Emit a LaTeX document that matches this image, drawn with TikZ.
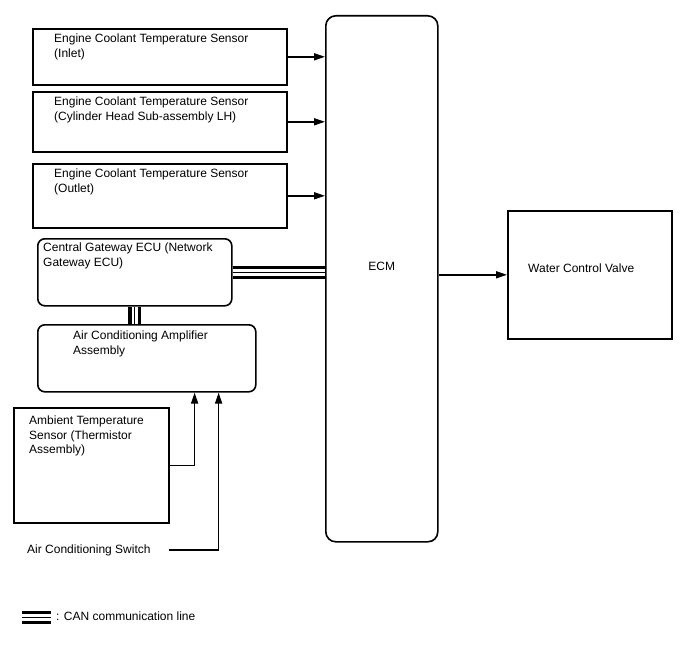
\documentclass[tikz,border=0pt]{standalone}
\usepackage{fontspec}
\setmainfont{Liberation Sans}
\usetikzlibrary{arrows.meta, positioning, calc}

\begin{document}
\begin{tikzpicture}[x=1pt, y=-1pt, >={Triangle[length=11pt, width=7pt]},
  box/.style={draw, line width=1.6pt, anchor=north west, inner sep=0pt},
  rbox/.style={box, rounded corners=7pt},
  txt/.style={align=left, inner sep=0pt, font=\fontsize{12}{14.5}\selectfont},
  conn/.style={line width=1.6pt},
  can/.style={line width=13pt, postaction={draw, white, line width=6.5pt}, postaction={draw, black, line width=1pt}}]
  \useasboundingbox (0,0) rectangle (688,658);

  % boxes
  \node[box, minimum width=254pt, minimum height=56pt] (inlet) at (32,28) {};
  \node[box, minimum width=254pt, minimum height=60pt] (cylhead) at (32,91) {};
  \node[box, minimum width=254pt, minimum height=64pt] (outlet) at (32,163) {};
  \node[rbox, rounded corners=10pt, minimum width=112pt, minimum height=526pt] (ecm) at (325,15) {};
  \node[box, minimum width=164pt, minimum height=128pt] (wcv) at (507,210) {};
  \node[rbox, minimum width=194pt, minimum height=67pt] (gw) at (37,238) {};
  \node[rbox, minimum width=218pt, minimum height=67pt] (amp) at (37,324) {};
  \node[box, minimum width=155pt, minimum height=115pt] (amb) at (13,407) {};

  % texts
  \node[txt, below right=6pt and 22pt of inlet.north west] {Engine Coolant Temperature Sensor\\(Inlet)};
  \node[txt, below right=6pt and 22pt of cylhead.north west] {Engine Coolant Temperature Sensor\\(Cylinder Head Sub-assembly LH)};
  \node[txt, below right=6pt and 22pt of outlet.north west] {Engine Coolant Temperature Sensor\\(Outlet)};
  \node[txt, below right=5pt and 6pt of gw.north west] {Central Gateway ECU (Network\\Gateway ECU)};
  \node[txt, below right=7pt and 36pt of amp.north west] {Air Conditioning Amplifier\\Assembly};
  \node[txt, below right=9pt and 16pt of amb.north west] {Ambient Temperature\\Sensor (Thermistor\\Assembly)};
  \node[txt] (ecmtxt) at ([yshift=12pt]ecm.center) {ECM};
  \node[txt, right=21pt of wcv.west, yshift=7pt] (wcvtxt) {Water Control Valve};
  \node[txt, anchor=west] (sw) at (27,550) {Air Conditioning Switch};

  % connections
  \draw[conn, ->] (inlet.east) -- (inlet.east -| ecm.west);
  \draw[conn, ->] (cylhead.east) -- (cylhead.east -| ecm.west);
  \draw[conn, ->] (outlet.east) -- (outlet.east -| ecm.west);
  \draw[conn, ->] (ecm.east |- wcv.west) -- (wcv.west);
  \draw[can] (gw.east) -- (gw.east -| ecm.west);
  \draw[can] (gw.south) -- (gw.south |- amp.north);
  \draw[conn, ->] (amb.east) -| ([xshift=-62pt]amp.south east);
  \draw[conn, ->] ([xshift=18pt]sw.east) -| ([xshift=-38pt]amp.south east);

  % legend
  \coordinate (lgA) at (22,617.5);
  \coordinate (lgB) at (51,617.5);
  \draw[can] (lgA) -- (lgB);
  \node[txt, anchor=west] (lgtxt) at (56,616) {: CAN communication line};
\end{tikzpicture}
\end{document}
